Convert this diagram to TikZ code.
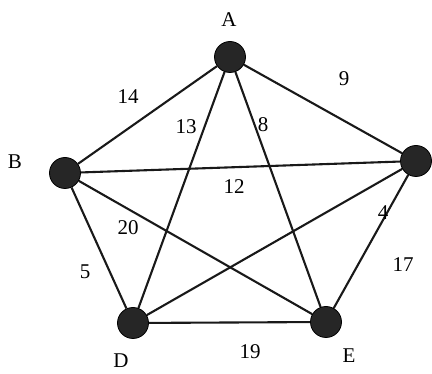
\documentclass[tikz,border=0pt]{standalone}
\usepackage{fontspec}
\setmainfont{Liberation Serif}
\begin{document}
\begin{tikzpicture}[x=1pt,y=-1pt,
  vert/.style={circle,fill=black!85,draw=black,line width=0.8pt,minimum size=31pt,inner sep=0pt},
  edge/.style={line width=2.1pt,black!90},
  wt/.style={font=\fontsize{21}{23}\selectfont,inner sep=0pt},
  lab/.style={font=\fontsize{21}{23}\selectfont,inner sep=0pt}]
\useasboundingbox (0,0) rectangle (432,374);
\fill[white] (0,0) rectangle (432,374);
\node[vert] (A) at (230,57) {};
\node[vert] (B) at (65,173) {};
\node[vert] (C) at (416,161) {};
\node[vert] (D) at (133,323) {};
\node[vert] (E) at (326,322) {};
\draw[edge] (A) -- (B);
\draw[edge] (A) -- (C);
\draw[edge] (A) -- (D);
\draw[edge] (A) -- (E);
\draw[edge] (B) -- (C);
\draw[edge] (B) -- (D);
\draw[edge] (B) -- (E);
\draw[edge] (C) -- (D);
\draw[edge] (C) -- (E);
\draw[edge] (D) -- (E);
\node[lab] (lA) at (229,20) {A};
\node[lab] (lB) at (15,162) {B};
\node[lab] (lD) at (121,361) {D};
\node[lab] (lE) at (349,356) {E};
\node[wt] (w14) at (128,97) {14};
\node[wt] (w9) at (344,79) {9};
\node[wt] (w13) at (186,127) {13};
\node[wt] (w8) at (263,125) {8};
\node[wt] (w12) at (234,187) {12};
\node[wt] (w20) at (128,228) {20};
\node[wt] (w5) at (85,272) {5};
\node[wt] (w4) at (383,213) {4};
\node[wt] (w17) at (403,265) {17};
\node[wt] (w19) at (250,352) {19};
\end{tikzpicture}
\end{document}
